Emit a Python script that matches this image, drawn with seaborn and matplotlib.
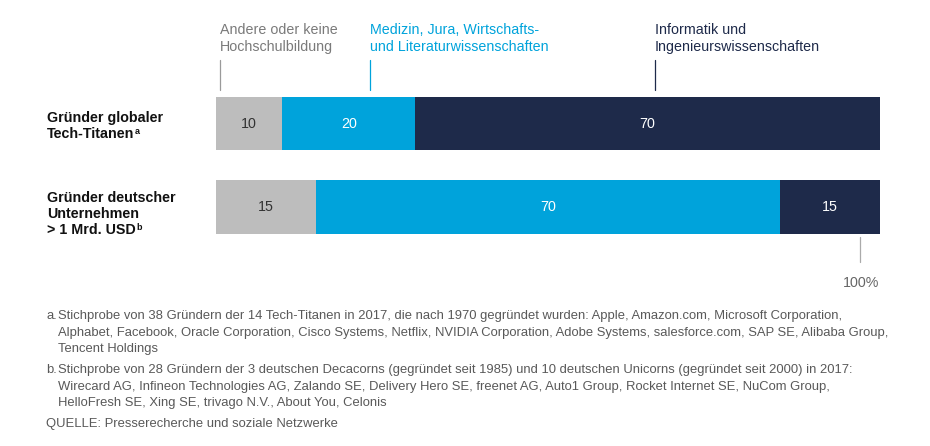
import matplotlib
matplotlib.use("Agg")
import matplotlib.pyplot as plt
import seaborn as sns
import pandas as pd
from matplotlib.lines import Line2D

sns.set_theme(style="white")
plt.rcParams["font.family"] = ["Liberation Sans", "DejaVu Sans"]

# ---------------- data ----------------
categories = ["Gründer globaler Tech-Titanen", "Gründer deutscher Unternehmen > 1 Mrd. USD"]
category_lines = [["Gründer globaler", "Tech-Titanen"],
                  ["Gründer deutscher", "Unternehmen", "> 1 Mrd. USD"]]
category_notes = ["a", "b"]
segments = [
    "Andere oder keine\nHochschulbildung",
    "Medizin, Jura, Wirtschafts-\nund Literaturwissenschaften",
    "Informatik und\nIngenieurswissenschaften",
]
values_global = [10, 20, 70]
values_german = [15, 70, 15]
total_label = "100%"
footnotes = [
    ("a.", ["Stichprobe von 38 Gründern der 14 Tech-Titanen in 2017, die nach 1970 gegründet wurden: Apple, Amazon.com, Microsoft Corporation,",
            "Alphabet, Facebook, Oracle Corporation, Cisco Systems, Netflix, NVIDIA Corporation, Adobe Systems, salesforce.com, SAP SE, Alibaba Group,",
            "Tencent Holdings"]),
    ("b.", ["Stichprobe von 28 Gründern der 3 deutschen Decacorns (gegründet seit 1985) und 10 deutschen Unicorns (gegründet seit 2000) in 2017:",
            "Wirecard AG, Infineon Technologies AG, Zalando SE, Delivery Hero SE, freenet AG, Auto1 Group, Rocket Internet SE, NuCom Group,",
            "HelloFresh SE, Xing SE, trivago N.V., About You, Celonis"]),
]
source = "QUELLE: Presserecherche und soziale Netzwerke"

# ---------------- styling ----------------
colors = ["#BDBDBD", "#00A3DB", "#1E2A4A"]
header_colors = ["#7A7A7A", "#00A3DB", "#1E2A4A"]
leader_colors = ["#9A9A9A", "#00A3DB", "#1E2A4A"]
value_colors = ["#333333", "white", "white"]
note_color = "#595959"

W, H = 930, 446
fig = plt.figure(figsize=(W / 100, H / 100), dpi=100)
fig.patch.set_facecolor("white")

def fx(px):
    return px / W

def fy(py):
    return 1 - py / H

# axes so that bar centres land at y=123.5 and y=207 px
top_px, bot_px = 81.75, 248.75
ax = fig.add_axes([fx(216), fy(bot_px), fx(880) - fx(216), (bot_px - top_px) / H])

rows = []
for cat, vals in zip(categories, [values_global, values_german]):
    cum = 0
    for seg, v in zip(segments, vals):
        rows.append({"cat": cat, "seg": seg, "value": v, "start": cum, "end": cum + v})
        cum += v
df = pd.DataFrame(rows)

for i in reversed(range(len(segments))):
    sub = df[df["seg"] == segments[i]]
    sns.barplot(data=sub, y="cat", x="end", order=categories, color=colors[i],
                orient="h", width=0.635, saturation=1, ax=ax, linewidth=0)

for _, r in df.iterrows():
    si = segments.index(r["seg"])
    yi = categories.index(r["cat"])
    ax.text((r["start"] + r["end"]) / 2, yi, f"{r['value']:d}", ha="center", va="center",
            fontsize=10.3, color=value_colors[si])

ax.set_xlim(0, 100)
ax.set_ylim(1.5, -0.5)
ax.axis("off")

# category labels (line by line, superscript note after last line)
label_y = [[118, 134.5], [197.5, 214, 230.5]]
for lines, ys, note in zip(category_lines, label_y, category_notes):
    t = None
    for ln, yy in zip(lines, ys):
        t = fig.text(fx(47), fy(yy), ln, ha="left", va="center", fontsize=10.3,
                     fontweight="bold", color="#111111")
    plt.annotate(note, xy=(1, 0.55), xycoords=t, xytext=(0.5, 0),
                 textcoords="offset points", ha="left", va="baseline",
                 fontsize=6.5, fontweight="bold", color="#111111",
                 annotation_clip=False)

# segment header labels with leader lines
header_x = [220, 370, 655]
for x, lab, c, lc in zip(header_x, segments, header_colors, leader_colors):
    l1, l2 = lab.split("\n")
    fig.text(fx(x), fy(30), l1, ha="left", va="center", fontsize=10.3, color=c)
    fig.text(fx(x), fy(47), l2, ha="left", va="center", fontsize=10.3, color=c)
    fig.add_artist(Line2D([fx(x), fx(x)], [fy(60), fy(90)], color=lc, lw=0.9))

# 100% marker
fig.add_artist(Line2D([fx(860), fx(860)], [fy(237), fy(262)], color="#AAAAAA", lw=0.9))
fig.text(fx(861), fy(283), total_label, ha="center", va="center", fontsize=10.3, color="#666666")

# footnotes
foot_y = [[316, 333, 349], [370, 387, 403]]
for (prefix, lines), ys in zip(footnotes, foot_y):
    fig.text(fx(46), fy(ys[0]), prefix, ha="left", va="center", fontsize=9.4, color=note_color)
    for ln, yy in zip(lines, ys):
        fig.text(fx(58), fy(yy), ln, ha="left", va="center", fontsize=9.4, color=note_color)
fig.text(fx(46), fy(424), source, ha="left", va="center", fontsize=9.4, color=note_color)

fig.savefig("out.png", dpi=100, facecolor="white")
